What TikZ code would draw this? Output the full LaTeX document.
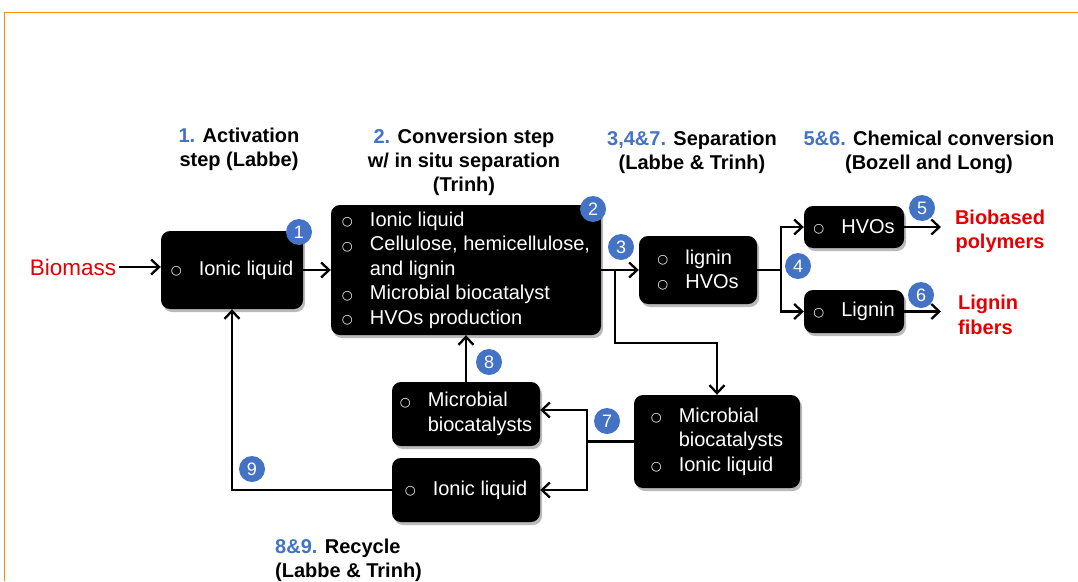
\documentclass[tikz,border=0pt]{standalone}
\usepackage{fontspec}
\setmainfont{Liberation Sans}
\newfontfamily\djv{DejaVu Sans}
\usetikzlibrary{arrows.meta,shadows}
\definecolor{bluec}{RGB}{68,114,196}
\definecolor{redc}{RGB}{228,0,0}
\definecolor{orangec}{RGB}{255,140,0}
\newcommand{\bl}{\makebox[28pt][l]{\raisebox{0.5pt}{\djv\fontsize{12.5}{12.5}\selectfont ○}}}
\newcommand{\ind}{\hspace*{28pt}}
\begin{document}
\begin{tikzpicture}[x=1pt,y=-1pt,
  box/.style={fill=black, rounded corners=9pt, text=white, align=left, inner sep=0pt,
    font=\fontsize{20}{24.5}\selectfont,
    drop shadow={shadow xshift=2pt, shadow yshift=-3pt, opacity=0.45, fill=black!60}},
  hd/.style={align=center, font=\bfseries\fontsize{20}{24}\selectfont},
  badge/.style={circle, fill=bluec, text=white, minimum size=26pt, inner sep=0pt, font=\fontsize{18}{18}\selectfont},
  ln/.style={line width=2.3pt},
  arr/.style={line width=2.3pt, -{Straight Barb[length=8pt,width=15pt,line width=2.3pt]}}]
\useasboundingbox (0,0) rectangle (1078,581);
\draw[orangec, line width=1.5pt] (4.5,581) -- (4.5,12.5) -- (1078,12.5);

% headers
\node[hd] (h1) at (239,149) {\textcolor{bluec}{1.} Activation\\step (Labbe)};
\node[hd] (h2) at (464,162) {\textcolor{bluec}{2.} Conversion step\\w/ in situ separation\\(Trinh)};
\node[hd] (h3) at (692,152) {\textcolor{bluec}{3,4\&7.} Separation\\(Labbe \& Trinh)};
\node[hd] (h4) at (929,152) {\textcolor{bluec}{5\&6.} Chemical conversion\\(Bozell and Long)};
\node[hd, align=left, anchor=west, inner sep=0pt] (h5) at (275,560) {\textcolor{bluec}{8\&9.} Recycle\\(Labbe \& Trinh)};

% red labels
\node[text=redc, inner sep=3pt, font=\fontsize{22.5}{24}\selectfont] (bio) at (73,267) {Biomass};
\node[text=redc, align=center, font=\bfseries\fontsize{20}{24.5}\selectfont] (bp) at (1000,231.5) {Biobased\\polymers};
\node[text=redc, align=left, anchor=west, inner sep=0pt, font=\bfseries\fontsize{20}{24.5}\selectfont] (lf) at (958,315) {Lignin\\fibers};

% boxes
\node[box, minimum width=142pt, minimum height=78pt] (b1) at (232,270) {\bl Ionic liquid};
\node[box, minimum width=270pt, minimum height=130pt] (b2) at (466,270) {\bl Ionic liquid\\\bl Cellulose, hemicellulose,\\\ind and lignin\\\bl Microbial biocatalyst\\\bl HVOs production};
\node[box, minimum width=118pt, minimum height=68pt] (b3) at (698,270) {\bl lignin\\\bl HVOs};
\node[box, minimum width=100pt, minimum height=42pt] (bh) at (854,227) {\bl HVOs};
\node[box, minimum width=100pt, minimum height=43pt] (bl) at (854,311.5) {\bl Lignin};
\node[box, minimum width=148pt, minimum height=64pt] (bm) at (466,414) {\bl Microbial\\\ind biocatalysts};
\node[box, minimum width=148pt, minimum height=64pt] (bi) at (466,490) {\bl Ionic liquid};
\node[box, minimum width=166pt, minimum height=93pt] (br) at (717,441.5) {\bl Microbial\\\ind biocatalysts\\\bl Ionic liquid};

% connectors
\draw[arr] (bio.east) -- (b1.west |- bio.east);
\draw[arr] (b1.east) -- (b2.west);
\draw[arr] (b2.east) -- (b3.west);
\coordinate (s1) at (615,270);
\coordinate (s2) at (717,343);
\draw[arr] (s1) |- (s2) -- (br.north);
\coordinate (f) at (781,270);
\draw[ln] (b3.east) -- (f);
\draw[arr] (f) |- (bh.west);
\draw[arr] (f) |- (bl.west);
\coordinate (e5) at (941,227);
\coordinate (e6) at (941,311.5);
\draw[arr] (bh.east) -- (e5);
\draw[arr] (bl.east) -- (e6);
\coordinate (s7) at (587,441.5);
\draw[ln] (br.west) -- (s7);
\draw[arr] (s7) |- ([yshift=4pt]bm.east);
\draw[arr] (s7) |- (bi.east);
\draw[arr] (bm.north) -- (b2.south);
\draw[arr] (bi.west) -| (b1.south);

% badges
\node[badge] (n1) at (299,232) {1};
\node[badge] (n2) at (593,209) {2};
\node[badge] (n3) at (621,247) {3};
\node[badge] (n4) at (798,266) {4};
\node[badge] (n5) at (922,208) {5};
\node[badge] (n6) at (921,295) {6};
\node[badge] (n7) at (607,421) {7};
\node[badge] (n8) at (489,362) {8};
\node[badge] (n9) at (252,469) {9};
\end{tikzpicture}
\end{document}
